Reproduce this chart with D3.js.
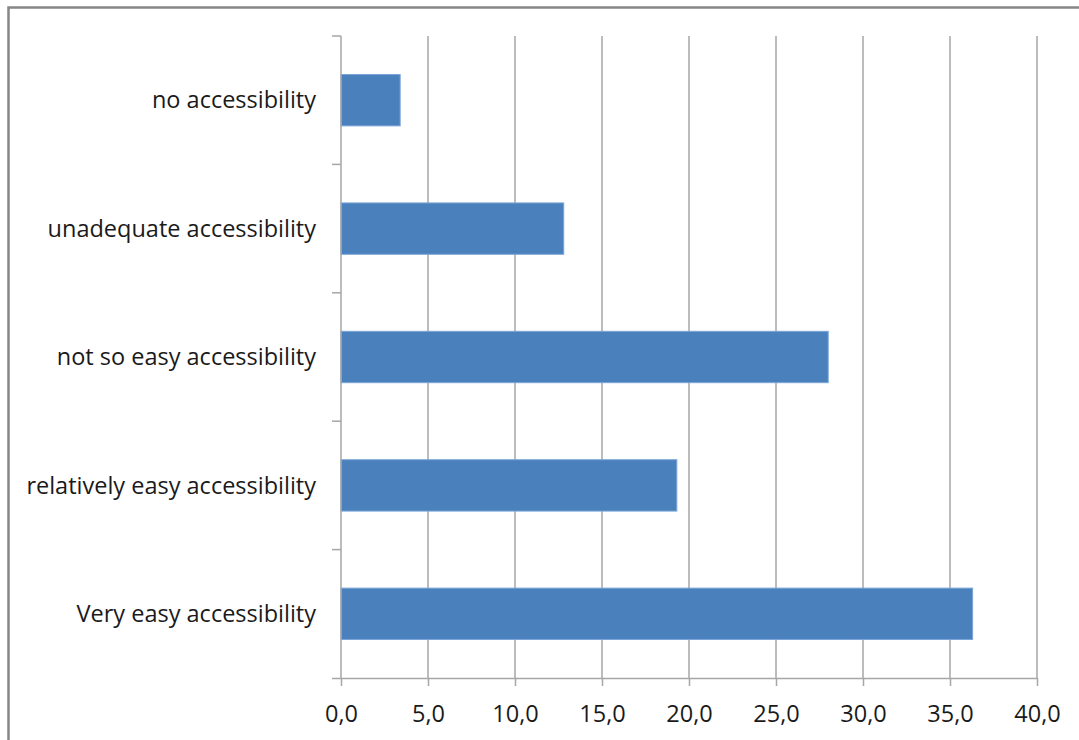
<!DOCTYPE html>
<html>
<head>
<meta charset="utf-8">
<script src="https://cdn.jsdelivr.net/npm/d3@7"></script>
<style>
  html, body { margin: 0; padding: 0; background: #fff; }
  svg { display: block; }
</style>
</head>
<body>
<svg id="chart" width="1079" height="740"></svg>
<script>
// Categories, top to bottom
const categories = [
  "no accessibility",
  "unadequate accessibility",
  "not so easy accessibility",
  "relatively easy accessibility",
  "Very easy accessibility"
];
// Share of respondents (%)
const values = [3.4, 12.8, 28.0, 19.3, 36.3];
// Value axis ticks
const tickValues = [0, 5, 10, 15, 20, 25, 30, 35, 40];

const svg = d3.select("#chart");
const font = "'Open Sans', sans-serif";
const fontSize = "23.5px";

// Chart frame (left and top edges)
svg.append("path")
  .attr("d", "M8.5,740 V7.5 H1079")
  .attr("fill", "none")
  .attr("stroke", "#868686")
  .attr("stroke-width", 2.5);

const plot = { left: 341, right: 1037, top: 36, bottom: 678 };

const x = d3.scaleLinear().domain([0, 40]).range([plot.left, plot.right]);
const y = d3.scaleBand().domain(categories)
  .range([plot.top, plot.bottom])
  .paddingInner(0.6).paddingOuter(0.3);

// Vertical gridlines
svg.append("g")
  .selectAll("line")
  .data(tickValues.filter(d => d > 0))
  .join("line")
  .attr("x1", d => x(d)).attr("x2", d => x(d))
  .attr("y1", plot.top).attr("y2", plot.bottom)
  .attr("stroke", "#a6a6a6")
  .attr("stroke-width", 1.5);

// Bars
svg.append("g")
  .selectAll("rect")
  .data(categories)
  .join("rect")
  .attr("x", x(0))
  .attr("y", d => y(d))
  .attr("width", (d, i) => x(values[i]) - x(0))
  .attr("height", y.bandwidth())
  .attr("fill", "#4a81bd")
  .attr("stroke", "#7ba5d6")
  .attr("stroke-width", 1);

// Bottom value axis
const xAxis = d3.axisBottom(x)
  .tickValues(tickValues)
  .tickFormat(d => d3.format(".1f")(d).replace(".", ","))
  .tickSizeInner(8).tickSizeOuter(0).tickPadding(19);

const gx = svg.append("g")
  .attr("transform", `translate(0,${plot.bottom})`)
  .call(xAxis);
gx.select(".domain")
  .attr("d", `M${plot.left - 9},0.5H${plot.right}`)
  .attr("stroke", "#a6a6a6").attr("stroke-width", 1.5);
gx.selectAll(".tick line").attr("stroke", "#a6a6a6").attr("stroke-width", 1.5);
gx.selectAll(".tick text")
  .attr("fill", "#1a1a1a")
  .style("font-family", font)
  .style("font-size", fontSize);

// Left category axis: boundaries between categories
const bounds = d3.range(categories.length + 1)
  .map(i => plot.top + i * (plot.bottom - plot.top) / categories.length);
const gy = svg.append("g");
gy.append("line")
  .attr("x1", plot.left).attr("x2", plot.left)
  .attr("y1", plot.top).attr("y2", plot.bottom)
  .attr("stroke", "#a6a6a6").attr("stroke-width", 1.5);
gy.selectAll("line.tick")
  .data(bounds.slice(0, -1))
  .join("line")
  .attr("class", "tick")
  .attr("x1", plot.left - 9).attr("x2", plot.left)
  .attr("y1", d => d).attr("y2", d => d)
  .attr("stroke", "#a6a6a6").attr("stroke-width", 1.5);

// Category labels
gy.selectAll("text")
  .data(categories)
  .join("text")
  .attr("x", plot.left - 25)
  .attr("y", d => y(d) + y.bandwidth() / 2)
  .attr("dy", "0.35em")
  .attr("text-anchor", "end")
  .attr("fill", "#1a1a1a")
  .style("font-family", font)
  .style("font-size", fontSize)
  .text(d => d);
</script>
</body>
</html>
